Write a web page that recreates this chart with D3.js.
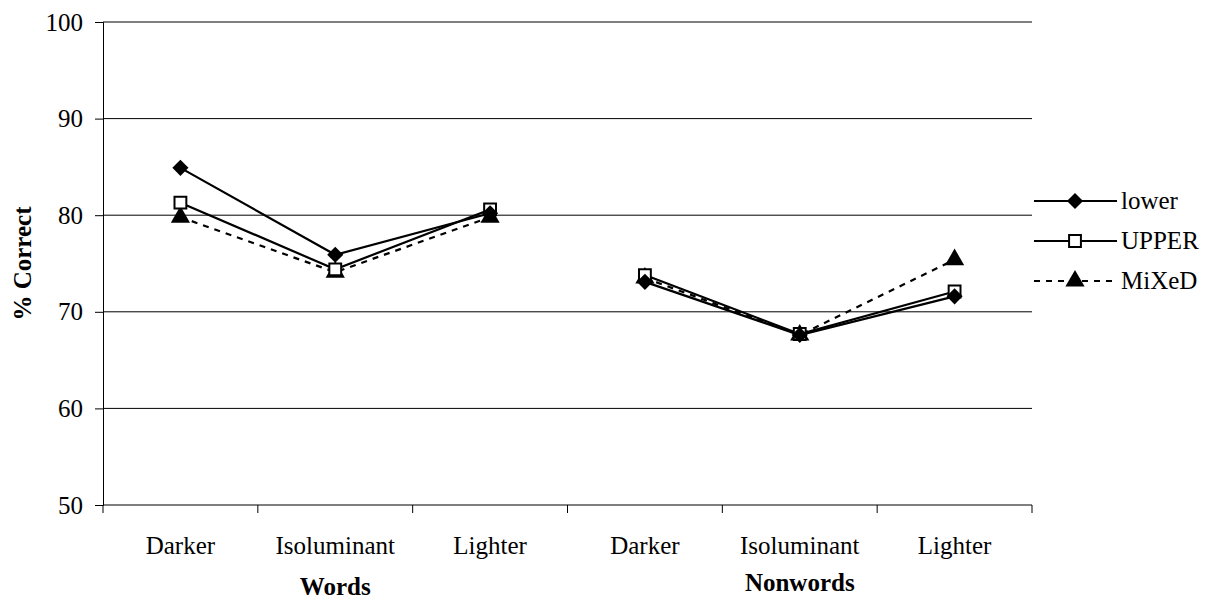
<!DOCTYPE html>
<html>
<head>
<meta charset="utf-8">
<script src="https://cdn.jsdelivr.net/npm/d3@7"></script>
</head>
<body style="margin:0;background:#fff">
<svg id="chart" width="1221" height="601"></svg>
<script>
// Conditions along the x axis, grouped by stimulus type
const groups = ["Words", "Nonwords"];
const conditions = ["Darker", "Isoluminant", "Lighter"];
const seriesNames = ["lower", "UPPER", "MiXeD"];

// % correct per series, in order Words(Darker, Iso, Lighter), Nonwords(Darker, Iso, Lighter)
const lowerValues = [84.9, 75.9, 80.2, 73.1, 67.6, 71.6];
const upperValues = [81.3, 74.4, 80.6, 73.8, 67.7, 72.1];
const mixedValues = [79.8, 74.1, 79.8, 73.5, 67.6, 75.4];

const yTicks = [50, 60, 70, 80, 90, 100];

const FONT = '"Liberation Serif"';
const FS = "25px";
const svg = d3.select("#chart");
const margin = { left: 103, right: 189, top: 22, bottom: 96 };
const W = 1221, H = 601;
const plotW = W - margin.left - margin.right;
const plotH = H - margin.top - margin.bottom;

const keys = [];
groups.forEach(g => conditions.forEach(c => keys.push(g + "|" + c)));

const x = d3.scaleBand().domain(keys).range([margin.left, margin.left + plotW]);
const y = d3.scaleLinear().domain([50, 100]).range([margin.top + plotH, margin.top]);

// Filled diamond drawn as a square turned 45 degrees
const squareDiamond = {
  draw(ctx, size) {
    const r = Math.sqrt(size / 2);
    ctx.moveTo(0, -r); ctx.lineTo(r, 0); ctx.lineTo(0, r); ctx.lineTo(-r, 0); ctx.closePath();
  }
};

// Horizontal gridlines
svg.append("g")
  .selectAll("line")
  .data(yTicks.slice(1))
  .join("line")
  .attr("x1", margin.left).attr("x2", margin.left + plotW)
  .attr("y1", d => y(d)).attr("y2", d => y(d))
  .attr("stroke", "#000").attr("stroke-width", 1);

// Y axis
const yAxis = svg.append("g")
  .attr("transform", `translate(${margin.left},0)`)
  .call(d3.axisLeft(y).tickValues(yTicks).tickSize(8).tickPadding(12));
yAxis.select(".domain").attr("stroke", "#000");
yAxis.selectAll(".tick line").attr("stroke", "#000");
yAxis.selectAll("text")
  .attr("fill", "#000")
  .style("font-size", FS)
  .style("font-family", FONT);

// X axis: line plus tick marks at band boundaries
const xAxisY = y(50);
svg.append("line")
  .attr("x1", margin.left).attr("x2", margin.left + plotW)
  .attr("y1", xAxisY).attr("y2", xAxisY)
  .attr("stroke", "#000");
const bounds = keys.map(k => x(k)).concat([margin.left + plotW]);
svg.append("g").selectAll("line")
  .data(bounds)
  .join("line")
  .attr("x1", d => d).attr("x2", d => d)
  .attr("y1", xAxisY).attr("y2", xAxisY + 8)
  .attr("stroke", "#000");

// Condition labels
svg.append("g").selectAll("text")
  .data(keys)
  .join("text")
  .attr("x", d => x(d) + x.bandwidth() / 2)
  .attr("y", xAxisY + 49)
  .attr("text-anchor", "middle")
  .style("font-size", FS)
  .style("font-family", FONT)
  .text(d => d.split("|")[1]);

// Group labels
const groupCenters = [
  { name: groups[0], cx: x(keys[1]) + x.bandwidth() / 2, dy: 90 },
  { name: groups[1], cx: x(keys[4]) + x.bandwidth() / 2, dy: 86 }
];
svg.append("g").selectAll("text")
  .data(groupCenters)
  .join("text")
  .attr("x", d => d.cx)
  .attr("y", d => xAxisY + d.dy)
  .attr("text-anchor", "middle")
  .style("font-size", FS)
  .style("font-weight", "bold")
  .style("font-family", FONT)
  .text(d => d.name);

// Y axis title
svg.append("text")
  .attr("transform", `translate(31, ${margin.top + plotH / 2}) rotate(-90)`)
  .attr("text-anchor", "middle")
  .style("font-size", FS)
  .style("font-weight", "bold")
  .style("font-family", FONT)
  .text("% Correct");

// Series
const series = [
  { name: seriesNames[0], values: lowerValues, dash: null, symbol: squareDiamond, size: 130, fill: "#000", sw: 0 },
  { name: seriesNames[1], values: upperValues, dash: null, symbol: d3.symbolSquare, size: 140, fill: "#fff", sw: 2 },
  { name: seriesNames[2], values: mixedValues, dash: "6,6", symbol: d3.symbolTriangle, size: 160, fill: "#000", sw: 0 }
];

const cx = i => x(keys[i]) + x.bandwidth() / 2;

// Lines per group, later series drawn first so "lower" sits on top
[...series].reverse().forEach(s => {
  groups.forEach((g, gi) => {
    const seg = s.values.slice(gi * 3, gi * 3 + 3).map((v, j) => [cx(gi * 3 + j), y(v)]);
    svg.append("path")
      .attr("d", d3.line()(seg))
      .attr("fill", "none")
      .attr("stroke", "#000")
      .attr("stroke-width", 2.2)
      .attr("stroke-dasharray", s.dash);
  });
});
[...series].reverse().forEach(s => {
  svg.append("g").selectAll("path")
    .data(s.values)
    .join("path")
    .attr("transform", (v, i) => `translate(${cx(i)},${y(v)})`)
    .attr("d", d3.symbol().type(s.symbol).size(s.size))
    .attr("fill", s.fill)
    .attr("stroke", "#000")
    .attr("stroke-width", s.sw);
});

// Legend
const legend = svg.append("g");
const legRows = [201, 241, 281];
series.forEach((s, i) => {
  const ly = legRows[i];
  legend.append("line")
    .attr("x1", 1034).attr("x2", 1117)
    .attr("y1", ly).attr("y2", ly)
    .attr("stroke", "#000").attr("stroke-width", 2.2)
    .attr("stroke-dasharray", s.dash);
  legend.append("path")
    .attr("transform", `translate(1075,${ly})`)
    .attr("d", d3.symbol().type(s.symbol).size(s.size))
    .attr("fill", s.fill)
    .attr("stroke", "#000")
    .attr("stroke-width", s.sw);
  legend.append("text")
    .attr("x", 1121).attr("y", ly + 8)
    .style("font-size", FS)
    .style("font-family", FONT)
    .text(s.name);
});
</script>
</body>
</html>
